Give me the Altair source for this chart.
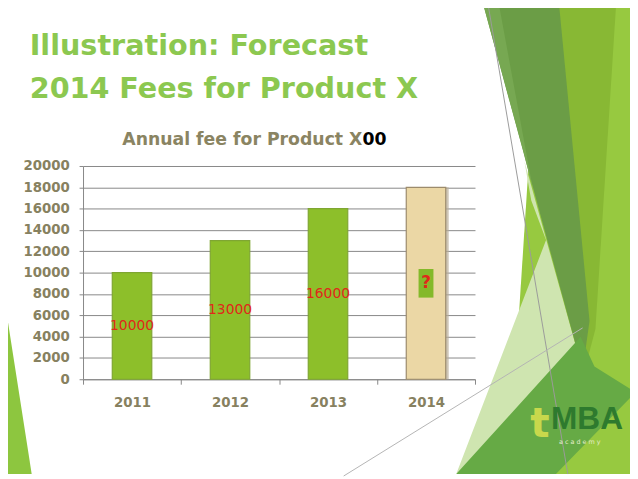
import altair as alt
import pandas as pd

# ---------------- data ----------------
years = ["2011", "2012", "2013", "2014"]
fees = [10000, 13000, 16000, 18000]
bar_labels = ["10000", "13000", "16000", "?"]
kinds = ["actual", "actual", "actual", "forecast"]
y_ticks = list(range(0, 20001, 2000))

slide_title = ["Illustration: Forecast", "2014 Fees for Product X"]
chart_title_main = "Annual fee for Product X"
chart_title_tail = "00"
logo_main = "MBA"
logo_t = "t"
logo_sub = "a c a d e m y"

# ---------------- layout ----------------
W, H = 397, 216          # plot area
PAD_L, PAD_T = 76, 157
TOTAL_W, TOTAL_H = 630, 471
OX, OY = 8 + PAD_L, 8 + PAD_T   # plot origin on page

# decorative slide shapes (page pixel coordinates) -- background only
deco_shapes = [
    ([(0, 272), (32, 477), (0, 477)], "#8dc63f"),
    ([(546, 0), (640, 0), (640, 477), (515, 477)], "#97c940"),
    ([(562, 0), (624, 0), (603, 330), (592, 372)], "#88b834"),
    ([(531, 160), (590, 372), (462, 477), (553, 240), (538, 200)], "#cfe5b0"),
    ([(489, 0), (566, 0), (597, 322), (590, 372)], "#6b9d46"),
    ([(489, 0), (505, 0), (540, 190), (530, 150)], "#77a852"),
    ([(462, 477), (588, 338), (602, 368), (640, 392), (640, 398), (563, 477)], "#66aa45"),
]
deco_lines = [
    ([(494, 0), (575, 477)], "#9a9a9a"),
    ([(348, 479), (590, 329)], "#b4b4b4"),
]


def path_of(points, closed):
    # points are page pixels; symbol origin is placed at page (8,8) = svg (0,0)
    s = "M" + "L".join(f"{x - 8},{y - 8}" for x, y in points)
    return s + ("Z" if closed else "")


def deco_layer(points, colour, closed=True):
    shape = path_of(points, closed)
    if closed:
        mark = alt.Chart(pd.DataFrame({"k": [0]})).mark_point(
            shape=shape, size=4, filled=True, fill=colour, strokeWidth=0, opacity=1)
    else:
        mark = alt.Chart(pd.DataFrame({"k": [0]})).mark_point(
            shape=shape, size=4, filled=False, stroke=colour, strokeWidth=1, opacity=1)
    return mark.encode(x=alt.value(-PAD_L), y=alt.value(-PAD_T))


deco_layers = [deco_layer(p, c) for p, c in deco_shapes]
deco_layers += [deco_layer(p, c, closed=False) for p, c in deco_lines]

# ---------------- chart ----------------
df = pd.DataFrame({"year": years, "fee": fees, "label": bar_labels, "kind": kinds})

AX_COL = "#878787"
LAB_COL = "#878160"

x_axis = alt.Axis(title=None, labelAngle=0, tickBand="extent", tickSize=5,
                  labelPadding=12, domainColor=AX_COL, tickColor=AX_COL,
                  labelFont="DejaVu Sans", labelFontWeight="bold",
                  labelFontSize=13.5, labelColor=LAB_COL, grid=False)
y_axis = alt.Axis(title=None, values=y_ticks, format="d", grid=True,
                  gridColor=AX_COL, domainColor=AX_COL, tickColor=AX_COL,
                  tickSize=4, labelPadding=10, labelFont="DejaVu Sans",
                  labelFontWeight="bold", labelFontSize=13.5, labelColor=LAB_COL)
x_scale = alt.Scale(paddingInner=0, paddingOuter=0)
y_scale = alt.Scale(domain=[0, 20000], nice=False)

xb = alt.X("year:N", scale=x_scale, axis=x_axis)
yb = alt.Y("fee:Q", scale=y_scale, axis=y_axis)

shadow = alt.Chart(df).transform_filter("datum.kind == 'forecast'").mark_bar(
    size=40, xOffset=3, color="#b9ae98", opacity=0.7
).encode(x=xb, y=yb)

bars = alt.Chart(df).mark_bar(size=40, strokeWidth=1.2).encode(
    x=xb, y=yb,
    color=alt.Color("kind:N", scale=alt.Scale(domain=["actual", "forecast"],
                                              range=["#8dbf2a", "#ebd7a5"]), legend=None),
    stroke=alt.Stroke("kind:N", scale=alt.Scale(domain=["actual", "forecast"],
                                                range=["#7fa632", "#9c8b6c"]), legend=None),
)

mid = alt.Chart(df).transform_calculate(mid="datum.fee / 2")
ym = alt.Y("mid:Q", scale=y_scale, axis=y_axis)

box = mid.transform_filter("datum.kind == 'forecast'").mark_point(
    shape="M-0.52,-1H0.52V1H-0.52Z", size=841, filled=True, color="#84b92a", opacity=1
).encode(x=xb, y=ym)

labels = mid.transform_filter("datum.kind == 'actual'").mark_text(
    font="DejaVu Sans", fontSize=14, color="#e0281a", baseline="middle"
).encode(x=xb, y=ym, text="label:N")

qmark = mid.transform_filter("datum.kind == 'forecast'").mark_text(
    font="DejaVu Sans", fontSize=17, fontWeight="bold", color="#e0281a", baseline="middle"
).encode(x=xb, y=ym, text="label:N")


def text_layer(txt, px, py, **kw):
    return alt.Chart(pd.DataFrame({"t": [txt]})).mark_text(baseline="alphabetic", **kw).encode(
        text="t:N", x=alt.value(px - OX), y=alt.value(py - OY))


title1 = text_layer(slide_title[0], 30, 53, align="left", font="DejaVu Sans",
                    fontWeight="bold", fontSize=29, color="#8cc850")
title2 = text_layer(slide_title[1], 30, 96, align="left", font="DejaVu Sans",
                    fontWeight="bold", fontSize=29, color="#8cc850")
ctitle1 = text_layer(chart_title_main, 367, 144, align="right", font="DejaVu Sans",
                     fontWeight="bold", fontSize=17.5, color="#8a8462")
ctitle2 = text_layer(chart_title_tail, 367, 144, align="left", font="DejaVu Sans",
                     fontWeight="bold", fontSize=17.5, color="#000000")
logo1 = text_layer(logo_t, 537, 439, align="left", font="DejaVu Sans",
                   fontWeight="bold", fontSize=41, color="#c8d84c")
logo2 = text_layer(logo_main, 558, 431, align="left", font="Liberation Sans",
                   fontWeight="bold", fontSize=32, color="#2e7a2e")
logo3 = text_layer(logo_sub, 566, 447, align="left", font="DejaVu Sans",
                   fontSize=6.5, color="#e4ecc8")

chart = alt.layer(
    *deco_layers, shadow, bars, box, labels, qmark,
    title1, title2, ctitle1, ctitle2, logo1, logo2, logo3,
).properties(
    width=W, height=H,
    autosize=alt.AutoSizeParams(type="none"),
    padding={"left": PAD_L, "top": PAD_T, "right": TOTAL_W - PAD_L - W,
             "bottom": TOTAL_H - PAD_T - H},
    background="white",
).configure_view(stroke=None)

chart.save("out.html", embed_options={"renderer": "svg", "actions": False})
